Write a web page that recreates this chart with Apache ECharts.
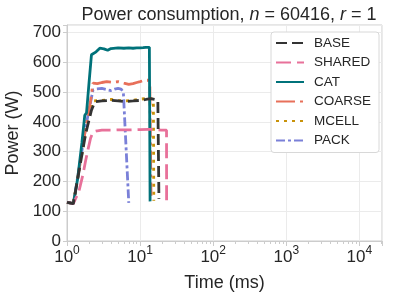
<!DOCTYPE html>
<html><head><meta charset="utf-8">
<script src="https://cdn.jsdelivr.net/npm/echarts@6/dist/echarts.min.js"></script>
<style>html,body{margin:0;padding:0;background:#fff}#c{width:399px;height:301px}</style>
</head><body><div id="c"></div>
<script>
const seriesNames = ['BASE','SHARED','CAT','COARSE','MCELL','PACK'];
const baseT = [1.0,1.1,1.22,1.5,1.8,2.16,2.4,3,4,5,6,8,10,12,14,16,17.5,18.1];
const baseP = [130,128,125,250,360,439,467,470,472,470,468,470,472,475,478,475,472,142];
const sharedT = [1.0,1.1,1.22,1.45,1.66,1.8,1.95,2.1,2.27,2.6,3,4,5,7,10,13,16,19.4,23,23.05];
const sharedP = [130,128,125,165,225,270,310,345,366,370,372,372,373,373,374,375,374,372,372,128];
const catT = [1.0,1.1,1.22,1.4,1.6,1.75,1.85,2.0,2.16,2.5,2.81,3.2,3.6,4,5,6,7,8,9,10,11,12,12.7,13.4,13.7];
const catP = [130,128,125,210,330,422,430,530,625,635,647,645,640,646,648,647,648,647,648,648,649,650,655,650,133];
const coarseT = [1.0,1.1,1.22,1.5,1.8,2.1,2.27,2.6,3,3.5,4,5,6,7,8,9,10,11,12,13,13.6,14.1];
const coarseP = [130,128,125,255,380,470,530,528,532,535,533,535,530,526,528,532,535,538,540,540,520,152];
const mcellT = [1.0,1.1,1.22,1.5,1.8,2.1,2.3,3,4,5,6,8,10,12,14,15.2,15.4];
const mcellP = [130,128,125,255,365,440,470,472,475,472,470,472,476,478,478,475,135];
const packT = [1.0,1.1,1.22,1.5,1.8,2.0,2.27,2.5,3,3.5,4,4.5,5,5.5,5.9,7.0];
const packP = [130,128,125,260,380,440,507,510,512,508,505,510,512,510,500,128];
const xTicks = [1,10,100,1000,10000];
const yTicks = [0,100,200,300,400,500,600,700];

const colors = ['#333333','#e8719a','#00727a','#e8705a','#c8920a','#7a80d8'];
const dashes = [[11,5],[15,6],'solid',[19,5,3,5],[3,5],[9,3,3,3]];
const times = [baseT,sharedT,catT,coarseT,mcellT,packT];
const powers = [baseP,sharedP,catP,coarseP,mcellP,packP];

const chart = echarts.init(document.getElementById('c'), null, {renderer:'canvas'});
const font = 'Liberation Sans, Arial, sans-serif';
const supExp = {1:'0',10:'1',100:'2',1000:'3',10000:'4'};
chart.setOption({
  animation:false,
  backgroundColor:'#fff',
  textStyle:{fontFamily:font},
  title:{
    text:'{a|Power consumption, }{i|n}{a| = 60416, }{i|r}{a| = 1}',
    left:224, top:1, textAlign:'center',
    textStyle:{fontWeight:'normal',rich:{a:{fontSize:18,fontWeight:'normal',color:'#262626',fontFamily:font},i:{fontSize:18,fontWeight:'normal',fontStyle:'italic',color:'#262626',fontFamily:font}}}
  },
  grid:{left:67,right:17,top:25,bottom:60,show:true,borderColor:'#cccccc',borderWidth:1,outerBoundsMode:'none',containLabel:false},
  legend:{
    orient:'vertical', left:271, top:32, data:seriesNames,
    itemWidth:28, itemHeight:14, itemGap:5.5,
    itemStyle:{opacity:0,color:'rgba(0,0,0,0)',borderWidth:0},
    padding:[4,8,5,4], borderColor:'#d8d8d8', borderWidth:1, borderRadius:3, backgroundColor:'#fff',
    textStyle:{fontSize:13.5,color:'#262626',fontFamily:font,padding:[0,0,0,5]}
  },
  xAxis:{
    type:'log', logBase:10, min:1, max:20400,
    name:'Time (ms)', nameLocation:'middle', nameGap:33,
    nameTextStyle:{fontSize:18,color:'#262626',fontFamily:font},
    axisLine:{show:true,lineStyle:{color:'#cccccc'}},
    axisTick:{show:true,length:5,lineStyle:{color:'#cccccc'}},
    minorTick:{show:true,splitNumber:9,length:3,lineStyle:{color:'#cccccc'}},
    splitLine:{show:true,lineStyle:{color:'#ebebeb',width:1}},
    axisLabel:{
      margin:4,
      formatter:function(v){ return supExp[v]!==undefined ? '{b|10}{s|'+supExp[v]+'}' : ''; },
      rich:{b:{fontSize:17,color:'#262626',fontFamily:font},s:{fontSize:12,color:'#262626',fontFamily:font,padding:[0,0,12,0]}}
    }
  },
  yAxis:{
    type:'value', min:0, max:725, interval:100,
    name:'Power (W)', nameLocation:'middle', nameGap:45,
    nameTextStyle:{fontSize:18,color:'#262626',fontFamily:font},
    axisLine:{show:true,lineStyle:{color:'#cccccc'}},
    axisTick:{show:true,length:4,lineStyle:{color:'#cccccc'},
      interval:function(i,v){ return yTicks.indexOf(Number(v))>=0; }},
    splitLine:{show:true,lineStyle:{color:'#ebebeb',width:1}},
    axisLabel:{fontSize:17,color:'#262626',fontFamily:font,margin:6,
      formatter:function(v){ return yTicks.indexOf(v)>=0 ? String(v) : ''; }}
  },
  series: seriesNames.map(function(n,i){
    return {
      name:n, type:'line', symbol:'none', showSymbol:false,
      data: times[i].map(function(t,j){ return [t, powers[i][j]]; }),
      itemStyle:{color:colors[i]},
      lineStyle:{color:colors[i], width:2.8, type:dashes[i]},
      z: 10-i
    };
  })
});
</script></body></html>
